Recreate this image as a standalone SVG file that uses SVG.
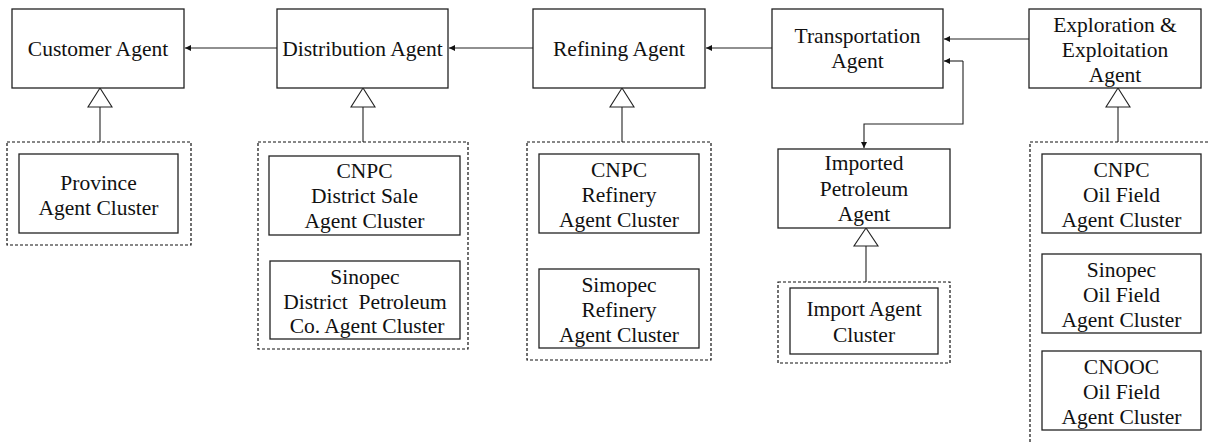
<svg xmlns="http://www.w3.org/2000/svg" width="1208" height="442" viewBox="0 0 1208 442">
<style>
.box{fill:#fff;stroke:#222;stroke-width:1.3}
.dash{fill:none;stroke:#111;stroke-width:1.2;stroke-dasharray:3 2}
.ln{fill:none;stroke:#222;stroke-width:1.1}
.tri{fill:#fff;stroke:#222;stroke-width:1.1}
text{font-family:"Liberation Serif","Times New Roman",serif;font-size:21.5px;fill:#111;text-anchor:middle}
</style>
<defs>
<marker id="ah" viewBox="0 0 8 8" refX="8" refY="4" markerWidth="6" markerHeight="6" orient="auto" markerUnits="userSpaceOnUse">
<path d="M0,0 L8,4 L0,8 Z" fill="#111"/>
</marker>
</defs>
<rect width="1208" height="442" fill="#fff"/>

<g id="connectors">
<line class="ln" x1="277" y1="48" x2="185" y2="48" marker-end="url(#ah)"/>
<line class="ln" x1="533" y1="48" x2="449" y2="48" marker-end="url(#ah)"/>
<line class="ln" x1="772" y1="48" x2="706" y2="48" marker-end="url(#ah)"/>
<line class="ln" x1="1029" y1="39" x2="944" y2="39" marker-end="url(#ah)"/>
<polyline class="ln" points="963,61 963,124 864,124 864,148" marker-end="url(#ah)"/>
<line class="ln" x1="963" y1="61" x2="944" y2="61" marker-end="url(#ah)"/>
<line class="ln" x1="100" y1="107" x2="100" y2="142"/>
<polygon class="tri" points="100,88 88,107 112,107"/>
<line class="ln" x1="363" y1="107" x2="363" y2="142"/>
<polygon class="tri" points="363,88 351,107 375,107"/>
<line class="ln" x1="622" y1="107" x2="622" y2="142"/>
<polygon class="tri" points="622,88 610,107 634,107"/>
<line class="ln" x1="866" y1="246" x2="866" y2="282"/>
<polygon class="tri" points="866,228 854,246 878,246"/>
<line class="ln" x1="1118" y1="107" x2="1118" y2="142"/>
<polygon class="tri" points="1118,88 1106,107 1130,107"/>
</g>

<g id="customer-agent">
<rect class="box" x="12" y="9" width="172" height="79"/>
<text x="98" y="56">Customer Agent</text>
</g>
<g id="distribution-agent">
<rect class="box" x="277" y="9" width="171" height="79"/>
<text x="362.5" y="56">Distribution Agent</text>
</g>
<g id="refining-agent">
<rect class="box" x="533" y="9" width="172" height="79"/>
<text x="619" y="56">Refining Agent</text>
</g>
<g id="transportation-agent">
<rect class="box" x="772" y="9" width="171" height="79"/>
<text x="857.5" y="43">Transportation</text>
<text x="857.5" y="68">Agent</text>
</g>
<g id="exploration-agent">
<rect class="box" x="1029" y="9" width="172" height="79"/>
<text x="1115" y="32">Exploration &amp;</text>
<text x="1115" y="57">Exploitation</text>
<text x="1115" y="82">Agent</text>
</g>

<g id="province-cluster-group">
<rect class="dash" x="7" y="142" width="184" height="103"/>
<g id="province-cluster">
<rect class="box" x="19" y="154" width="159" height="79"/>
<text x="98.5" y="190">Province</text>
<text x="98.5" y="215">Agent Cluster</text>
</g>
</g>

<g id="distribution-cluster-group">
<rect class="dash" x="258" y="142" width="210" height="207"/>
<g id="cnpc-district-sale">
<rect class="box" x="269" y="156" width="191" height="79"/>
<text x="364.5" y="178">CNPC</text>
<text x="364.5" y="203">District Sale</text>
<text x="364.5" y="228">Agent Cluster</text>
</g>
<g id="sinopec-district-petroleum">
<rect class="box" x="270" y="261" width="190" height="78"/>
<text x="365" y="284">Sinopec</text>
<text x="365" y="309" xml:space="preserve">District  Petroleum</text>
<text x="367" y="333">Co. Agent Cluster</text>
</g>
</g>

<g id="refinery-cluster-group">
<rect class="dash" x="527" y="142" width="184" height="218"/>
<g id="cnpc-refinery">
<rect class="box" x="539" y="154" width="160" height="79"/>
<text x="619" y="177">CNPC</text>
<text x="619" y="202">Refinery</text>
<text x="619" y="227">Agent Cluster</text>
</g>
<g id="simopec-refinery">
<rect class="box" x="539" y="269" width="160" height="79"/>
<text x="619" y="292">Simopec</text>
<text x="619" y="317">Refinery</text>
<text x="619" y="342">Agent Cluster</text>
</g>
</g>

<g id="imported-petroleum-agent">
<rect class="box" x="778" y="149" width="172" height="79"/>
<text x="864" y="170">Imported</text>
<text x="864" y="196">Petroleum</text>
<text x="864" y="221">Agent</text>
</g>

<g id="import-cluster-group">
<rect class="dash" x="778" y="282" width="172" height="81"/>
<g id="import-agent-cluster">
<rect class="box" x="790" y="288" width="148" height="66"/>
<text x="864" y="316">Import Agent</text>
<text x="864" y="342">Cluster</text>
</g>
</g>

<g id="oilfield-cluster-group">
<rect class="dash" x="1030" y="142" width="190" height="320"/>
<g id="cnpc-oilfield">
<rect class="box" x="1042" y="154" width="159" height="79"/>
<text x="1121.5" y="177">CNPC</text>
<text x="1121.5" y="202">Oil Field</text>
<text x="1121.5" y="227">Agent Cluster</text>
</g>
<g id="sinopec-oilfield">
<rect class="box" x="1042" y="254" width="159" height="79"/>
<text x="1121.5" y="277">Sinopec</text>
<text x="1121.5" y="302">Oil Field</text>
<text x="1121.5" y="327">Agent Cluster</text>
</g>
<g id="cnooc-oilfield">
<rect class="box" x="1042" y="351" width="159" height="79"/>
<text x="1121.5" y="374">CNOOC</text>
<text x="1121.5" y="399">Oil Field</text>
<text x="1121.5" y="424">Agent Cluster</text>
</g>
</g>
</svg>
